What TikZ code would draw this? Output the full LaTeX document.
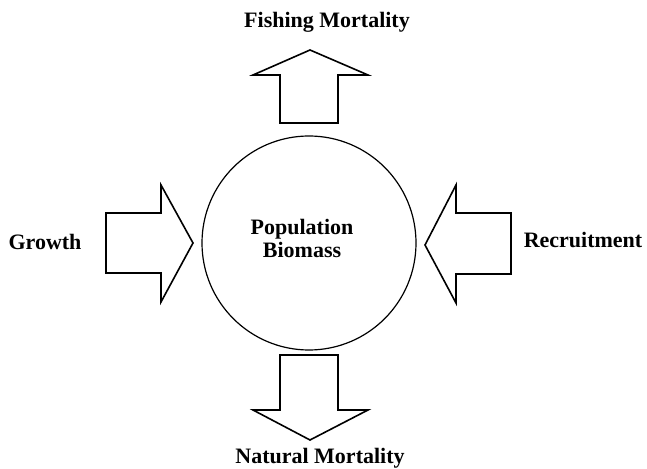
\documentclass[tikz,border=0pt]{standalone}
\usepackage{fontspec}
\setmainfont{Liberation Serif}
\usepackage{tikz}

\tikzset{
    blockarrow/.style = {draw, line width=0.8pt, line join=miter},
    label/.style = {font=\fontsize{11}{11.5}\selectfont\bfseries, inner sep=0pt}
}

\begin{document}
\begin{tikzpicture}[x=0.5pt, y=-0.5pt]
    \useasboundingbox (0,0) rectangle (647,469);

    % the stock in the middle
    \node[draw, circle, line width=0.6pt, minimum size=107pt, inner sep=0pt] (stock) at (309,243) {};
    \node[label, align=center] (biomass) at (302,238) {Population\\Biomass};

    % outflow upwards
    \draw[blockarrow] (280,123) -- (280,75) -- (253,75) -- (310,50)
        -- (368,75) -- (338,75) -- (338,123) -- cycle;
    \node[label] (fishing) at (327,22) {Fishing Mortality};

    % outflow downwards
    \draw[blockarrow] (280,355) -- (280,410) -- (253,410) -- (310,440)
        -- (368,410) -- (338,410) -- (338,355) -- cycle;
    \node[label] (natural) at (320,458) {Natural Mortality};

    % inflow from the left
    \draw[blockarrow] (106,213) -- (161,213) -- (161,185) -- (193,243)
        -- (161,302) -- (161,273) -- (106,273) -- cycle;
    \node[label] (growth) at (45,242) {Growth};

    % inflow from the right
    \draw[blockarrow] (511,213) -- (456,213) -- (456,185) -- (425,245)
        -- (456,303) -- (456,274) -- (511,274) -- cycle;
    \node[label] (recruit) at (583,240) {Recruitment};
\end{tikzpicture}
\end{document}
